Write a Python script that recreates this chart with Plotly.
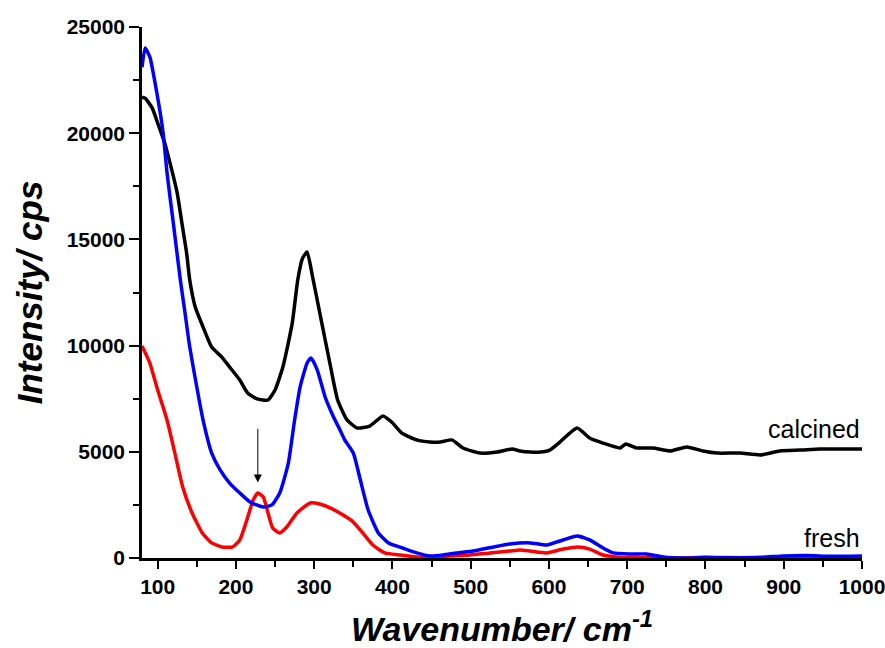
import plotly.graph_objects as go

# calcined (black)
calc_x = [80, 84, 93, 100, 109, 118, 125, 131, 137, 141, 148, 158, 169, 182, 192, 205, 215, 227, 241, 250,
          260, 272, 279, 285, 291, 298, 309, 320, 330, 342, 355, 371, 388, 399, 412, 431, 448, 461, 476, 490,
          512, 534, 553, 563, 576, 589, 601, 614, 636, 652, 669, 691, 698, 712, 733, 755, 776, 797, 815, 844,
          870, 895, 921, 946, 972, 1000]
calc_y = [21700, 21650, 21190, 20480, 19540, 18270, 17180, 15770, 14360, 13090, 11820, 10880, 9930, 9460, 8990, 8380, 7770, 7490, 7440, 7910,
          8990, 11060, 13090, 14100, 14410, 13230, 11200, 9180, 7440, 6500, 6120, 6210, 6690, 6400, 5880, 5560, 5460, 5460, 5560, 5180,
          4940, 4990, 5130, 5040, 4990, 4990, 5080, 5460, 6120, 5650, 5410, 5180, 5370, 5180, 5180, 5040, 5230, 5040, 4940, 4940,
          4850, 5040, 5080, 5130, 5130, 5130]

# fresh (blue)
blue_x = [80, 84, 90, 99, 107, 112, 120, 129, 135, 141, 150, 158, 169, 180, 192, 205, 218, 235, 246, 256,
          267, 275, 282, 291, 296, 304, 314, 324, 333, 339, 350, 359, 369, 382, 395, 413, 431, 448, 465, 482,
          503, 529, 550, 576, 597, 618, 636, 652, 669, 682, 704, 725, 746, 776, 800, 830, 870, 900, 930, 960, 1000]
blue_y = [23100, 24010, 23590, 21890, 20010, 18130, 15770, 13090, 11530, 9930, 8050, 6500, 4940, 4140, 3530, 3060, 2640, 2400, 2500, 3060,
          4470, 6500, 8050, 9180, 9420, 8850, 7580, 6700, 6030, 5560, 4940, 3670, 2260, 1180, 710, 470, 240, 94, 140, 240,
          330, 520, 660, 710, 610, 850, 1040, 850, 470, 240, 190, 190, 50, 0, 20, 10, 30, 100, 120, 80, 100]

# fresh (red)
red_x = [80, 90, 100, 112, 122, 132, 144, 157, 169, 182, 196, 205, 214, 222, 228, 235, 241, 247, 256, 265,
         278, 295, 307, 323, 337, 350, 362, 375, 390, 410, 431, 452, 473, 499, 525, 550, 563, 576, 597, 618,
         637, 652, 669, 687, 720, 760, 800, 830, 870, 920, 1000]
red_y = [9980, 9180, 7910, 6500, 4940, 3340, 2120, 1180, 710, 520, 520, 850, 1790, 2730, 3060, 2870, 2120, 1410, 1180, 1460,
         2120, 2590, 2540, 2310, 2020, 1690, 1180, 610, 240, 140, 50, 0, 94, 140, 240, 330, 380, 330, 240, 420,
         520, 420, 140, 50, 20, 0, 30, 20, 0, 10, 0]

x_ticks = [100, 200, 300, 400, 500, 600, 700, 800, 900, 1000]
y_ticks = [0, 5000, 10000, 15000, 20000, 25000]

FONT = "Liberation Sans, Arial, sans-serif"

fig = go.Figure()
fig.add_trace(go.Scatter(x=calc_x, y=calc_y, mode="lines", cliponaxis=False,
                         line=dict(color="black", width=3.5, shape="spline", smoothing=0.5)))
fig.add_trace(go.Scatter(x=red_x, y=red_y, mode="lines", cliponaxis=False,
                         line=dict(color="#ff0000", width=3.5, shape="spline", smoothing=0.5)))
fig.add_trace(go.Scatter(x=blue_x, y=blue_y, mode="lines", cliponaxis=False,
                         line=dict(color="#0000ff", width=3.5, shape="spline", smoothing=0.5)))

fig.update_layout(
    width=885, height=648,
    margin=dict(l=142, r=23, t=27, b=90),
    paper_bgcolor="white", plot_bgcolor="white",
    showlegend=False,
    font=dict(family=FONT, color="black"),
    xaxis=dict(
        range=[80, 1000], tickvals=x_ticks, ticktext=[str(v) for v in x_ticks],
        automargin=False, ticklabeloverflow="allow",
        showgrid=False, zeroline=False, showline=True, linecolor="black", linewidth=2.5,
        ticks="outside", ticklen=8, tickwidth=2, tickcolor="black",
        minor=dict(ticks="outside", ticklen=6, tickwidth=2, tickcolor="black", dtick=50, tick0=50),
        tickfont=dict(family=FONT, size=21, color="black", weight="bold"),
        title=dict(text="<b><i>Wavenumber/ cm<sup>-1</sup></i></b>", standoff=22,
                   font=dict(family=FONT, size=34, color="black")),
    ),
    yaxis=dict(
        range=[0, 25000], tickvals=y_ticks, ticktext=[str(v) for v in y_ticks],
        automargin=False, ticklabeloverflow="allow",
        showgrid=False, zeroline=False, showline=True, linecolor="black", linewidth=2.5,
        ticks="outside", ticklen=10, tickwidth=2, tickcolor="black",
        minor=dict(ticks="outside", ticklen=6, tickwidth=2, tickcolor="black", dtick=2500, tick0=0),
        tickfont=dict(family=FONT, size=21, color="black", weight="bold"),
        title=dict(text="<b><i>Intensity/ cps</i></b>", standoff=14,
                   font=dict(family=FONT, size=35, color="black")),
    ),
)

fig.add_annotation(x=1000, y=5130, xref="x", yref="y", text="calcined", showarrow=False,
                   xanchor="right", yanchor="bottom", yshift=4,
                   font=dict(family=FONT, size=25, color="black"))
fig.add_annotation(x=1000, y=100, xref="x", yref="y", text="fresh", showarrow=False,
                   xanchor="right", yanchor="bottom", yshift=2,
                   font=dict(family=FONT, size=25, color="black"))
fig.add_annotation(x=228, y=3550, ax=228, ay=6150, xref="x", yref="y", axref="x", ayref="y",
                   text="", showarrow=True, arrowhead=2, arrowsize=1.6, arrowwidth=1, arrowcolor="black")

fig.write_html("out.html")
